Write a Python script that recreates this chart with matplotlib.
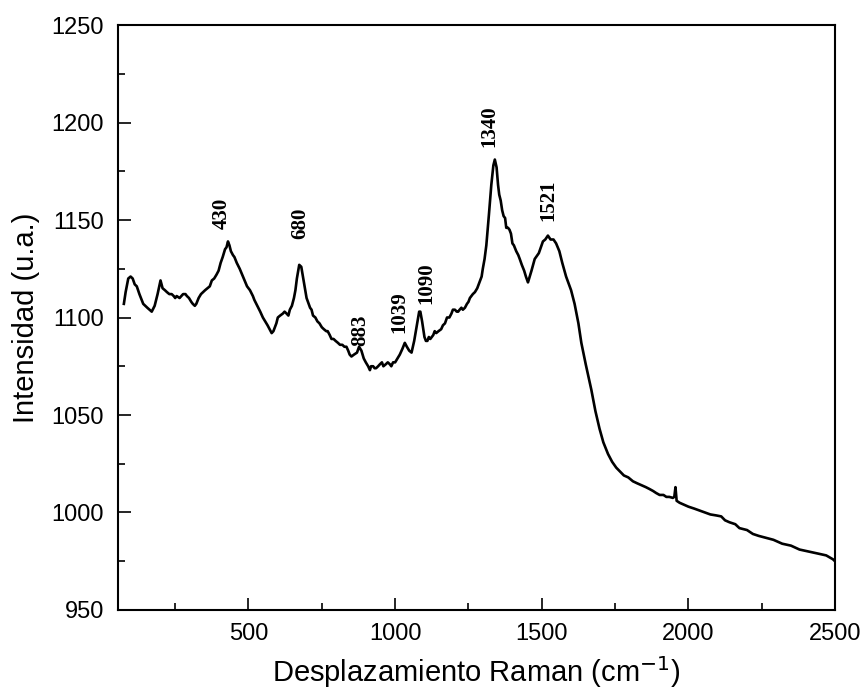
import matplotlib
matplotlib.use("Agg")
import matplotlib.pyplot as plt
from matplotlib.ticker import MultipleLocator

# Raman shift (cm-1) and intensity (u.a.)
shift = [75, 81, 90, 98, 105, 112, 119, 128, 141, 155,
         170, 180, 190, 200, 207, 215, 222, 230, 238, 245,
         250, 255, 265, 277, 285, 290, 297, 305, 310, 317,
         322, 330, 338, 345, 352, 360, 368, 375, 383, 391,
         398, 405, 412, 420, 425, 430, 435, 440, 447, 452,
         460, 470, 481, 495, 505, 515, 520, 530, 540, 549,
         557, 565, 572, 579, 585, 590, 595, 600, 608, 617,
         623, 630, 636, 641, 648, 655, 660, 665, 673, 680,
         690, 698, 705, 710, 715, 720, 728, 735, 742, 750,
         757, 765, 770, 777, 783, 790, 797, 805, 812, 820,
         827, 834, 840, 845, 851, 860, 870, 877, 885, 893,
         900, 908, 914, 918, 925, 930, 935, 942, 948, 955,
         960, 968, 975, 982, 987, 993, 1000, 1008, 1016, 1025,
         1033, 1040, 1048, 1056, 1065, 1075, 1082, 1086, 1092, 1100,
         1105, 1110, 1115, 1120, 1125, 1130, 1135, 1140, 1148, 1157,
         1163, 1170, 1177, 1185, 1192, 1197, 1204, 1210, 1215, 1220,
         1226, 1231, 1238, 1245, 1250, 1255, 1260, 1265, 1272, 1280,
         1285, 1290, 1295, 1299, 1305, 1311, 1320, 1328, 1335, 1340,
         1346, 1351, 1355, 1360, 1365, 1370, 1375, 1379, 1385, 1390,
         1395, 1400, 1405, 1413, 1420, 1425, 1432, 1440, 1446, 1453,
         1465, 1476, 1490, 1504, 1512, 1521, 1530, 1540, 1549, 1560,
         1570, 1583, 1600, 1612, 1625, 1635, 1650, 1669, 1683, 1697,
         1710, 1726, 1740, 1754, 1780, 1795, 1811, 1825, 1840, 1855,
         1868, 1880, 1890, 1902, 1915, 1925, 1935, 1947, 1952, 1956,
         1960, 1970, 2000, 2020, 2038, 2055, 2075, 2095, 2112, 2125,
         2140, 2160, 2174, 2200, 2220, 2240, 2265, 2290, 2320, 2350,
         2379, 2410, 2440, 2470, 2493, 2500]
intensity = [1107, 1113, 1120, 1121, 1120, 1117, 1116, 1112, 1107, 1105,
             1103, 1106, 1112, 1119, 1115, 1114, 1113, 1112, 1112, 1111,
             1110, 1111, 1110, 1112, 1112, 1111, 1110, 1108, 1107, 1106,
             1107, 1110, 1112, 1113, 1114, 1115, 1116, 1119, 1120, 1122,
             1124, 1128, 1131, 1135, 1136, 1139, 1137, 1134, 1132, 1131,
             1128, 1125, 1121, 1116, 1114, 1111, 1109, 1106, 1103, 1100,
             1098, 1096, 1094, 1092, 1093, 1095, 1097, 1100, 1101, 1102,
             1103, 1102, 1101, 1104, 1106, 1110, 1114, 1120, 1127, 1126,
             1117, 1110, 1107, 1105, 1104, 1101, 1100, 1098, 1097, 1095,
             1094, 1093, 1093, 1091, 1089, 1089, 1088, 1087, 1086, 1086,
             1085, 1085, 1083, 1081, 1080, 1081, 1082, 1085, 1083, 1079,
             1077, 1075, 1073, 1075, 1075, 1074, 1074, 1075, 1076, 1077,
             1075, 1076, 1077, 1076, 1075, 1077, 1077, 1079, 1081, 1084,
             1087, 1085, 1083, 1082, 1088, 1097, 1103, 1103, 1098, 1090,
             1088, 1088, 1090, 1089, 1090, 1091, 1093, 1092, 1093, 1094,
             1096, 1097, 1100, 1100, 1102, 1104, 1104, 1103, 1103, 1104,
             1105, 1104, 1105, 1107, 1108, 1110, 1111, 1112, 1113, 1115,
             1117, 1119, 1121, 1125, 1130, 1137, 1153, 1168, 1178, 1181,
             1177, 1168, 1163, 1160, 1155, 1152, 1151, 1146, 1146, 1145,
             1143, 1138, 1137, 1134, 1132, 1130, 1127, 1124, 1121, 1118,
             1124, 1130, 1133, 1139, 1140, 1142, 1140, 1140, 1138, 1134,
             1128, 1121, 1114, 1107, 1097, 1087, 1076, 1063, 1052, 1043,
             1036, 1030, 1026, 1023, 1019, 1018, 1016, 1015, 1014, 1013,
             1012, 1011, 1010, 1009, 1009, 1008, 1008, 1007.5, 1008, 1013,
             1006, 1005, 1003, 1002, 1001, 1000, 999, 998.5, 998, 996,
             995, 994, 992, 991, 989, 988, 987, 986, 984, 983,
             981, 980, 979, 978, 976, 975]

peak_labels = ["430", "680", "883", "1039", "1090", "1340", "1521"]
label_x = [409, 675, 880, 1016, 1108, 1322, 1523]
label_y = [1153.5, 1148.5, 1093.5, 1103, 1117.5, 1198, 1160]

x_ticks = [500, 1000, 1500, 2000, 2500]
y_ticks = [950, 1000, 1050, 1100, 1150, 1200, 1250]

plt.rcParams['font.family'] = ['Liberation Sans', 'DejaVu Sans']

fig = plt.figure(figsize=(8.65, 6.93), dpi=100)
ax = fig.add_axes([118 / 865, 1 - 610 / 693, (835 - 118) / 865, (610 - 25) / 693])

ax.plot(shift, intensity, color='black', lw=1.9, solid_joinstyle='round')

for t, xx, yy in zip(peak_labels, label_x, label_y):
    ax.text(xx, yy, t, rotation=90, ha='center', va='center',
            family=['Liberation Serif', 'DejaVu Serif'], fontweight='bold',
            fontsize=15)

ax.set_xlim(55, 2500)
ax.set_ylim(950, 1250)
ax.set_xticks(x_ticks)
ax.set_yticks(y_ticks)
ax.xaxis.set_minor_locator(MultipleLocator(250))
ax.yaxis.set_minor_locator(MultipleLocator(25))
ax.tick_params(which='both', direction='in', top=False, right=False,
               labelsize=17, width=1.2)
ax.tick_params(axis='y', which='both', pad=10)
ax.tick_params(axis='x', which='both', pad=9)
ax.tick_params(which='major', length=9)
ax.tick_params(which='minor', length=5)
for s in ax.spines.values():
    s.set_linewidth(1.5)

ax.set_xlabel('Desplazamiento Raman (cm$^{-1}$)', fontsize=21, labelpad=7)
ax.set_ylabel('Intensidad (u.a.)', fontsize=21, labelpad=8)

fig.savefig('out.png', dpi=100)
